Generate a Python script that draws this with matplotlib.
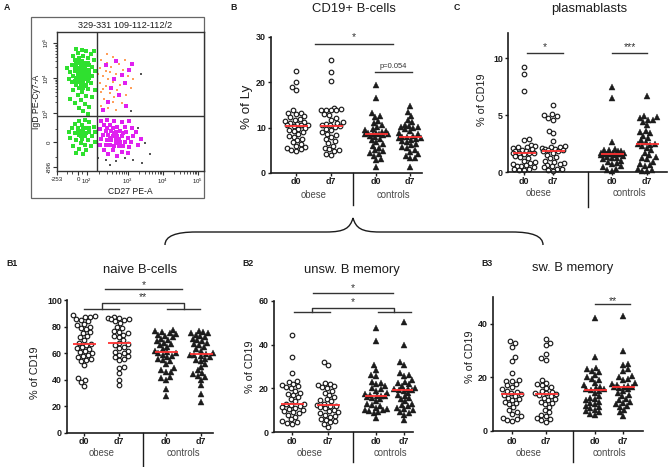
import matplotlib

matplotlib.use("Agg")
import matplotlib.pyplot as plt
import numpy as np
from matplotlib.patches import PathPatch, Rectangle
from matplotlib.path import Path

plt.rcParams["font.family"] = ["Liberation Sans", "DejaVu Sans"]
plt.rcParams["mathtext.fontset"] = "custom"
plt.rcParams["mathtext.rm"] = "Liberation Sans"

W, H = 669, 467

GROUP_LABELS = ["d0", "d7", "d0", "d7"]
COHORTS = ["obese", "controls"]

# ---- B: CD19+ B-cells, % of Ly
cd19_obese_d0 = [22.5, 20.0, 19.0, 18.3, 13.8, 13.3, 13.2, 13.0, 12.5, 12.3, 12.0, 11.8, 11.5,
                 11.2, 11.0, 10.8, 10.6, 10.5, 10.5, 10.4, 10.0, 9.8, 9.5, 9.2, 9.0, 8.6, 8.2,
                 8.0, 7.6, 7.2, 6.8, 6.4, 6.0, 5.8, 5.5, 5.2, 5.0, 4.8]
cd19_obese_d7 = [25.0, 22.2, 20.3, 14.3, 14.2, 14.0, 13.9, 13.8, 13.8, 13.0, 12.8, 12.2, 11.8,
                 11.3, 11.0, 10.7, 10.5, 10.5, 10.4, 10.2, 9.8, 9.5, 9.0, 8.7, 8.3, 8.0, 7.5,
                 7.0, 6.6, 6.0, 5.6, 5.2, 5.0, 4.8, 4.2, 3.9]
cd19_ctrl_d0 = [19.5, 16.5, 13.2, 12.6, 12.3, 11.5, 11.0, 10.6, 10.2, 9.8, 9.5, 9.2, 9.0, 8.9,
                8.8, 8.7, 8.6, 8.6, 8.5, 8.4, 8.2, 8.0, 7.6, 7.2, 6.8, 6.4, 6.0, 5.6, 5.0, 4.8,
                4.5, 4.2, 3.8, 3.0, 2.8, 1.3]
cd19_ctrl_d7 = [14.8, 13.5, 12.6, 11.8, 11.2, 10.6, 10.3, 10.2, 10.1, 10.0, 9.6, 9.2, 8.8, 8.5,
                8.2, 8.0, 7.9, 7.8, 7.8, 7.6, 7.3, 7.0, 6.8, 6.5, 6.2, 5.8, 5.5, 5.0, 4.6, 4.2,
                3.8, 3.4, 3.2, 1.3]

# ---- C: plasmablasts, % of CD19
pb_obese_d0 = [9.2, 8.6, 7.1, 2.9, 2.8, 2.4, 2.3, 2.2, 2.2, 2.1, 2.0, 1.9, 1.8, 1.8, 1.7, 1.7,
               1.7, 1.7, 1.6, 1.4, 1.3, 1.2, 1.0, 0.9, 0.8, 0.7, 0.6, 0.5, 0.5, 0.4, 0.3, 0.3,
               0.2, 0.2]
pb_obese_d7 = [5.9, 5.1, 5.0, 4.9, 4.7, 4.6, 3.6, 3.4, 2.7, 2.3, 2.2, 2.2, 2.1, 2.0, 2.0, 1.9,
               1.9, 1.8, 1.8, 1.7, 1.5, 1.3, 1.2, 1.0, 0.9, 0.8, 0.7, 0.6, 0.5, 0.4, 0.3, 0.3,
               0.2, 0.1]
pb_ctrl_d0 = [7.5, 6.5, 2.6, 2.0, 1.9, 1.9, 1.8, 1.8, 1.7, 1.7, 1.7, 1.6, 1.6, 1.6, 1.6, 1.6,
              1.6, 1.6, 1.5, 1.5, 1.4, 1.3, 1.2, 1.2, 1.1, 1.0, 0.9, 0.8, 0.7, 0.5, 0.4, 0.3,
              0.2, 0.1]
pb_ctrl_d7 = [6.7, 4.9, 4.8, 4.7, 4.6, 4.6, 4.4, 4.1, 3.6, 3.5, 3.4, 3.2, 3.0, 2.8, 2.6, 2.5,
              2.45, 2.4, 2.3, 2.1, 1.9, 1.7, 1.5, 1.3, 1.2, 1.1, 0.9, 0.7, 0.6, 0.5, 0.3, 0.2,
              0.1, 0.1]

# ---- B1: naive B-cells, % of CD19
nv_obese_d0 = [88.5, 88, 87.5, 87, 86, 85, 84, 82, 81, 80, 79, 78, 76, 75, 73, 72, 70, 68, 67,
               66, 65, 64, 63, 62, 61, 60, 59, 58, 57, 56, 55, 54, 51, 41, 40, 38, 35]
nv_obese_d7 = [87, 86.5, 86.5, 86, 85.5, 85, 84, 83, 80, 79, 77, 76, 75, 74, 73, 72, 70, 68, 67,
               66, 65, 64, 62, 61, 60, 59, 58, 57, 56, 55, 50, 49, 45, 40, 36]
nv_ctrl_d0 = [77.5, 76.5, 76, 75, 74.5, 74, 73, 72, 71, 70, 69, 68, 67, 66, 65, 63, 62, 61, 60.5,
              60, 59, 58, 57, 56, 55, 54, 52, 49, 47, 46, 46, 42, 41, 40, 33, 28]
nv_ctrl_d7 = [77, 76, 75.5, 75, 74, 73, 72, 71, 70, 69, 68, 67, 66, 65, 63, 62, 60, 59.5, 59,
              58.5, 58, 57, 56, 55, 54, 52, 50, 47, 45, 44, 43, 42, 40, 36, 29, 23]

# ---- B2: unswitched B memory, % of CD19
us_obese_d0 = [44.6, 34.5, 27.0, 23.5, 23.0, 22.0, 21.5, 21.0, 20.5, 20.0, 19.0, 18.0, 17.5,
               17.0, 16.0, 15.0, 14.0, 13.0, 12.8, 12.5, 12.0, 11.5, 11.0, 10.5, 10.0, 9.5, 9.0,
               8.5, 8.0, 7.0, 6.0, 5.0, 4.5, 4.2, 3.8]
us_obese_d7 = [32.2, 30.7, 22.5, 22.0, 21.5, 21.0, 20.5, 20.0, 19.0, 18.0, 17.0, 16.0, 15.0,
               14.5, 14.0, 13.0, 12.5, 12.0, 11.8, 11.5, 11.0, 10.0, 9.5, 9.0, 8.5, 8.0, 7.5,
               7.0, 6.0, 5.5, 5.0, 4.5, 3.5, 2.5]
us_ctrl_d0 = [47.5, 41.5, 30.5, 28.5, 26.0, 25.5, 23.0, 22.5, 22.0, 21.0, 20.0, 19.5, 19.0, 18.0,
              17.5, 17.0, 16.7, 16.5, 16.3, 16.0, 15.5, 15.0, 14.0, 13.0, 12.5, 12.0, 11.0, 10.5,
              10.0, 10.0, 9.5, 9.0, 8.5, 6.5]
us_ctrl_d7 = [50.3, 39.8, 32.0, 30.5, 27.0, 26.0, 25.5, 24.0, 23.0, 22.5, 22.0, 21.0, 20.0, 19.8,
              19.5, 19.4, 19.3, 19.0, 18.0, 17.0, 16.5, 15.5, 15.0, 14.0, 13.0, 12.5, 12.0, 11.0,
              10.5, 10.0, 9.0, 8.5, 8.0, 5.5]

# ---- B3: switched B memory, % of CD19
sw_obese_d0 = [33.5, 33.0, 31.5, 27.5, 26.0, 21.5, 19.0, 18.8, 18.5, 17.5, 17.0, 16.5, 15.5,
               15.0, 14.5, 14.0, 13.8, 13.5, 13.0, 12.5, 12.0, 11.5, 11.0, 10.5, 10.0, 9.0, 8.0,
               7.0, 6.5, 5.5, 5.0, 4.5, 4.0, 3.8]
sw_obese_d7 = [34.2, 33.0, 32.0, 28.8, 27.1, 26.5, 19.0, 18.0, 17.5, 17.0, 16.5, 16.0, 15.0,
               14.5, 14.2, 14.0, 13.8, 13.5, 13.0, 12.5, 12.0, 11.5, 11.0, 10.5, 10.0, 9.0, 8.0,
               7.0, 6.0, 5.5, 5.0, 4.5, 4.0, 3.5]
sw_ctrl_d0 = [42.0, 27.5, 23.5, 23.0, 22.5, 22.0, 21.0, 20.0, 19.5, 19.0, 18.0, 17.0, 16.5, 16.0,
              15.8, 15.5, 15.3, 15.0, 14.0, 13.0, 12.5, 12.0, 11.5, 11.0, 10.5, 10.0, 9.5, 9.0,
              8.5, 8.0, 7.5, 7.0, 6.5, 6.0]
sw_ctrl_d7 = [42.8, 30.0, 25.0, 24.5, 23.0, 22.5, 20.5, 20.0, 19.5, 19.0, 18.0, 17.5, 17.0, 16.8,
              16.6, 16.5, 16.3, 16.0, 15.5, 15.0, 14.0, 13.5, 13.0, 12.0, 11.5, 11.0, 10.5, 10.0,
              9.5, 9.0, 8.0, 7.0, 5.5]

# ---- A: flow cytometry events (fraction of the CD27 / IgD display range)
naive_events = [
    (0.17, 0.87), (0.20, 0.86), (0.14, 0.85), (0.23, 0.84), (0.11, 0.83), (0.18, 0.83),
    (0.15, 0.81), (0.21, 0.81), (0.12, 0.80), (0.25, 0.80), (0.17, 0.79), (0.19, 0.78),
    (0.13, 0.77), (0.10, 0.76), (0.16, 0.76), (0.22, 0.76), (0.24, 0.75), (0.14, 0.74),
    (0.18, 0.74), (0.20, 0.73), (0.12, 0.72), (0.16, 0.72), (0.09, 0.71), (0.22, 0.71),
    (0.14, 0.70), (0.18, 0.70), (0.20, 0.69), (0.11, 0.68), (0.16, 0.68), (0.24, 0.68),
    (0.13, 0.67), (0.19, 0.66), (0.21, 0.65), (0.15, 0.65), (0.10, 0.64), (0.17, 0.63),
    (0.23, 0.63), (0.13, 0.62), (0.19, 0.61), (0.15, 0.60), (0.21, 0.59), (0.11, 0.58),
    (0.17, 0.57), (0.14, 0.55), (0.20, 0.54), (0.24, 0.53), (0.16, 0.51), (0.12, 0.49),
    (0.19, 0.48), (0.22, 0.46), (0.15, 0.45), (0.18, 0.43), (0.26, 0.72), (0.08, 0.66),
    (0.26, 0.58), (0.09, 0.52), (0.21, 0.41), (0.13, 0.88), (0.25, 0.86), (0.07, 0.74),
    (0.15, 0.78), (0.17, 0.75), (0.19, 0.75), (0.21, 0.78), (0.13, 0.73), (0.15, 0.71),
    (0.17, 0.71), (0.19, 0.71), (0.21, 0.70), (0.14, 0.68), (0.18, 0.67), (0.20, 0.67),
    (0.16, 0.66), (0.18, 0.64), (0.14, 0.64), (0.16, 0.62), (0.18, 0.60), (0.20, 0.62),
    (0.12, 0.65), (0.22, 0.67), (0.16, 0.74), (0.18, 0.77), (0.20, 0.77), (0.16, 0.79),
    (0.14, 0.79), (0.22, 0.73), (0.12, 0.75), (0.17, 0.69), (0.19, 0.69), (0.15, 0.67),
]
dn_events = [
    (0.15, 0.36), (0.19, 0.37), (0.12, 0.34), (0.22, 0.35), (0.17, 0.33), (0.25, 0.32),
    (0.10, 0.31), (0.14, 0.31), (0.20, 0.31), (0.16, 0.29), (0.18, 0.28), (0.22, 0.28),
    (0.12, 0.27), (0.15, 0.26), (0.19, 0.25), (0.24, 0.25), (0.09, 0.24), (0.17, 0.23),
    (0.21, 0.22), (0.13, 0.22), (0.16, 0.20), (0.19, 0.19), (0.11, 0.18), (0.23, 0.18),
    (0.15, 0.16), (0.20, 0.15), (0.13, 0.13), (0.18, 0.12), (0.26, 0.21), (0.08, 0.28),
    (0.14, 0.28), (0.18, 0.31), (0.20, 0.27), (0.16, 0.25), (0.22, 0.31), (0.26, 0.28),
]
unsw_events = [
    (0.30, 0.80), (0.34, 0.78), (0.38, 0.82), (0.42, 0.77), (0.29, 0.74), (0.33, 0.72),
    (0.37, 0.75), (0.45, 0.73), (0.31, 0.68), (0.35, 0.66), (0.40, 0.70), (0.48, 0.68),
    (0.29, 0.63), (0.33, 0.61), (0.38, 0.64), (0.43, 0.62), (0.30, 0.57), (0.36, 0.56),
    (0.41, 0.58), (0.47, 0.55), (0.32, 0.52), (0.38, 0.50), (0.44, 0.49), (0.30, 0.47),
    (0.35, 0.45), (0.40, 0.44), (0.50, 0.60), (0.34, 0.84), (0.46, 0.80), (0.52, 0.66),
    (0.28, 0.70), (0.36, 0.71), (0.31, 0.59), (0.39, 0.53),
]
sw_events = [
    (0.30, 0.36), (0.34, 0.37), (0.39, 0.36), (0.44, 0.35), (0.49, 0.36), (0.32, 0.33),
    (0.36, 0.33), (0.41, 0.32), (0.46, 0.32), (0.51, 0.31), (0.29, 0.30), (0.33, 0.29),
    (0.37, 0.29), (0.40, 0.28), (0.43, 0.29), (0.47, 0.28), (0.54, 0.28), (0.31, 0.26),
    (0.35, 0.26), (0.38, 0.25), (0.41, 0.25), (0.44, 0.25), (0.48, 0.24), (0.52, 0.25),
    (0.30, 0.23), (0.34, 0.22), (0.37, 0.22), (0.40, 0.22), (0.43, 0.21), (0.46, 0.21),
    (0.50, 0.21), (0.33, 0.19), (0.36, 0.19), (0.39, 0.18), (0.42, 0.18), (0.45, 0.18),
    (0.49, 0.17), (0.55, 0.19), (0.32, 0.15), (0.38, 0.15), (0.44, 0.14), (0.48, 0.13),
    (0.35, 0.12), (0.41, 0.11), (0.29, 0.19), (0.57, 0.23), (0.39, 0.27), (0.42, 0.23),
    (0.36, 0.24), (0.45, 0.27), (0.40, 0.20), (0.38, 0.31), (0.34, 0.31),
    (0.33, 0.76), (0.40, 0.79), (0.44, 0.69), (0.37, 0.60), (0.49, 0.73), (0.42, 0.55),
    (0.35, 0.50), (0.46, 0.63), (0.51, 0.77), (0.31, 0.44), (0.39, 0.66), (0.47, 0.47),
]
other_events = [
    (0.33, 0.08), (0.40, 0.07), (0.46, 0.09), (0.52, 0.08), (0.58, 0.06), (0.63, 0.12),
    (0.55, 0.31), (0.60, 0.20), (0.36, 0.04), (0.50, 0.43), (0.57, 0.70), (0.28, 0.09),
]

RED = "#ff3333"
INK = "#1c1c1c"
GREY_TXT = "#4a4a4a"

fig = plt.figure(figsize=(W / 100, H / 100), dpi=100)
over = fig.add_axes([0, 0, 1, 1])
over.set_xlim(0, W)
over.set_ylim(H, 0)
over.axis("off")


def px_axes(left, top, right, bottom):
    return fig.add_axes([left / W, 1 - bottom / H, (right - left) / W, (bottom - top) / H])


def swarm(ypx, d, lim):
    """Beeswarm x offsets (px) for values in pixel units, kept within +-lim."""
    out = np.zeros(len(ypx))
    placed = []
    side = 1.0
    for i in np.argsort(ypx):
        y = ypx[i]
        near = [(xj, yj) for xj, yj in placed if abs(y - yj) < d]
        blocks = []
        for xj, yj in near:
            h = np.sqrt(d * d - (y - yj) ** 2)
            blocks.append((xj - h, xj + h))
        cands = [0.0] + [a for a, _ in blocks] + [b for _, b in blocks]
        cands = [c for c in cands if abs(c) <= lim]
        cands.sort(key=lambda c: (round(abs(c), 4), -side * c))
        pick = None
        for c in cands:
            if all(not (a + 1e-6 < c < b - 1e-6) for a, b in blocks):
                pick = c
                break
        if pick is None:
            grid = np.linspace(-lim, lim, 25)
            score = [min(np.hypot(g - xj, y - yj) for xj, yj in near) for g in grid]
            pick = float(grid[int(np.argmax(score))])
        out[i] = pick
        placed.append((pick, y))
        side = -side
    return out


def dot_panel(box, ymax, yticks, groups, xpos, sep, title, title_xy, letter, letter_xy,
              sep_end, tick_y, cohort_y, bars):
    left, top, right, bottom = box
    ax = px_axes(left, top, right, bottom)
    ax.set_xlim(0, right - left)
    ax.set_ylim(0, ymax)
    ppu = (bottom - top) / ymax
    for i, vals in enumerate(groups):
        vals = np.array(vals, dtype=float)
        xs = swarm(vals * ppu, 5.0, 11.5)
        if i < 2:
            ax.plot(xpos[i] + xs, vals, ls="none", marker="o", ms=3.3, mfc="white",
                    mec=INK, mew=0.85, clip_on=False, zorder=2)
        else:
            ax.plot(xpos[i] + xs, vals, ls="none", marker="^", ms=3.9, mfc=INK,
                    mec=INK, mew=0.3, clip_on=False, zorder=2)
        med = np.median(vals)
        ax.plot([xpos[i] - 11.5, xpos[i] + 11.5], [med, med], color=RED, lw=1.3,
                solid_capstyle="butt", zorder=3)
    for s in ("top", "right"):
        ax.spines[s].set_visible(False)
    for s in ("left", "bottom"):
        ax.spines[s].set_linewidth(1.2)
        ax.spines[s].set_color(INK)
    ax.set_xticks(xpos)
    ax.set_xticklabels([])
    ax.set_yticks(yticks)
    ax.set_yticklabels([str(t) for t in yticks], fontsize=6.4, fontweight="bold", color=INK)
    ax.tick_params(direction="out", length=2.5, width=1.0, color=INK, pad=1.2)
    ax.patch.set_visible(False)

    for x, lab in zip(xpos, GROUP_LABELS):
        over.text(left + x, tick_y, lab, fontsize=6.4, fontweight="bold", color=INK,
                  ha="center", va="center")
    for k, name in enumerate(COHORTS):
        cx = left + (xpos[2 * k] + xpos[2 * k + 1]) / 2
        over.text(cx, cohort_y, name, fontsize=6.9, color=GREY_TXT, ha="center", va="center")
    over.plot([left + sep, left + sep], [bottom, sep_end], color=INK, lw=1.0)
    over.text(title_xy[0], title_xy[1], title, fontsize=9.4, color=INK, ha="center",
              va="center")
    over.text(letter_xy[0], letter_xy[1], letter, fontsize=6.3, fontweight="bold", color=INK,
              ha="center", va="center")
    for kind, spec in bars:
        if kind == "line":
            x0, x1, y, txt, ty, fs = spec
            ax.plot([x0, x1], [y, y], color="#333333", lw=1.0, clip_on=False)
            ax.text((x0 + x1) / 2, ty, txt, fontsize=fs, color="#333333", ha="center",
                    va="center", clip_on=False)
        else:
            (l0, l1), (r0, r1), ytop, ylow, txt, ty = spec
            lm, rm = (l0 + l1) / 2, (r0 + r1) / 2
            ax.plot([l0, l1], [ylow, ylow], color="#333333", lw=1.0, clip_on=False)
            ax.plot([r0, r1], [ylow, ylow], color="#333333", lw=1.0, clip_on=False)
            ax.plot([lm, lm, rm, rm], [ylow, ytop, ytop, ylow], color="#333333", lw=1.0,
                    clip_on=False)
            ax.text((lm + rm) / 2, ty, txt, fontsize=7.5, color="#333333", ha="center",
                    va="center", clip_on=False)
    return ax


def ylabel(x, y, text, size=7.8):
    over.text(x, y, text, fontsize=size, color=INK, rotation=90, ha="center", va="center")


# ---- panel B
dot_panel((271, 37, 422, 173), 30, [0, 10, 20, 30],
          [cd19_obese_d0, cd19_obese_d7, cd19_ctrl_d0, cd19_ctrl_d7],
          [25, 60, 105, 139], 82, "CD19+ B-cells", (354, 9), "B", (234, 7), 205,
          182, 195,
          [("line", (44, 122, 28.5, "*", 29.9, 7.5)),
           ("line", (104, 141, 22.3, "p=0.054", 23.6, 5.4))])
ylabel(247, 107, "% of Ly", 9.6)

# ---- panel C
dot_panel((508, 33, 667, 172), 12.2, [0, 5, 10],
          [pb_obese_d0, pb_obese_d7, pb_ctrl_d0, pb_ctrl_d7],
          [16, 45, 104, 139], 80, "plasmablasts", (589, 9), "C", (457, 7), 207,
          182, 193,
          [("line", (19, 55, 10.45, "*", 10.95, 7.5)),
           ("line", (104, 139, 10.45, "***", 10.95, 7.5))])
ylabel(482, 100, "% of CD19")

# ---- panel B1
dot_panel((67, 300, 213, 433), 100, [0, 20, 40, 60, 80, 100],
          [nv_obese_d0, nv_obese_d7, nv_ctrl_d0, nv_ctrl_d7],
          [17, 52, 99, 134], 76, "naive B-cells", (140, 270), "B1", (12, 263), 467,
          441, 453,
          [("line", (38, 115, 108.3, "*", 111.3, 7.5)),
           ("bracket", ((17, 52), (100, 133), 97.7, 93.2, "**", 102.0))])
ylabel(35, 373, "% of CD19")

# ---- panel B2
dot_panel((274, 301, 413, 432), 60, [0, 20, 40, 60],
          [us_obese_d0, us_obese_d7, us_ctrl_d0, us_ctrl_d7],
          [18, 54, 102, 130], 79, "unsw. B memory", (352, 270), "B2", (248, 263), 462,
          441, 453,
          [("line", (39, 119, 63.7, "*", 65.9, 7.5)),
           ("bracket", ((20, 56), (104, 137), 56.8, 55.0, "*", 59.6))])
ylabel(250, 367, "% of CD19")

# ---- panel B3
dot_panel((493, 297, 643, 431), 50, [0, 20, 40],
          [sw_obese_d0, sw_obese_d7, sw_ctrl_d0, sw_ctrl_d7],
          [19, 53, 102, 130], 80, "sw. B memory", (573, 268), "B3", (487, 263), 462,
          442, 453,
          [("line", (102, 137, 47.5, "**", 48.6, 7.5))])
ylabel(470, 357, "% of CD19")

# ---- curly brace from B to B1..B3
verts = [(165, 245), (165, 236), (176, 232), (196, 232), (326, 232),
         (345, 232), (350, 228), (353, 218),
         (356, 228), (361, 232), (380, 232), (512, 232),
         (532, 232), (543, 236), (543, 245)]
codes = [Path.MOVETO, Path.CURVE4, Path.CURVE4, Path.CURVE4, Path.LINETO,
         Path.CURVE4, Path.CURVE4, Path.CURVE4,
         Path.CURVE4, Path.CURVE4, Path.CURVE4, Path.LINETO,
         Path.CURVE4, Path.CURVE4, Path.CURVE4]
over.add_patch(PathPatch(Path(verts, codes), fill=False, ec=INK, lw=1.0))

# ---- panel A: flow plot
over.add_patch(Rectangle((31, 17), 173, 181, fill=False, ec="#666666", lw=0.9))
over.text(7, 7, "A", fontsize=6.3, fontweight="bold", color=INK, ha="center", va="center")
over.text(125, 26, "329-331 109-112-112/2", fontsize=6.6, color=INK, ha="center",
          va="center")
axA = px_axes(57, 32, 204, 171)
axA.set_xlim(0, 1)
axA.set_ylim(0, 1)
for pts, col, size in ((naive_events, "#2fe02f", 6), (dn_events, "#2fe02f", 5),
                       (unsw_events, "#ff9f5a", 3.5), (sw_events, "#e020f0", 5),
                       (other_events, "#555555", 2.5)):
    arr = np.array(pts)
    axA.scatter(arr[:, 0], arr[:, 1], s=size, marker="s", c=col, linewidths=0, zorder=2)
axA.axvline(0.272, color="#333333", lw=1.0, zorder=3)
axA.axhline(0.396, color="#333333", lw=1.0, zorder=3)
for s in axA.spines.values():
    s.set_color("#333333")
    s.set_linewidth(1.0)
xt = [0.0, 0.143, 0.204, 0.483, 0.721, 0.959]
axA.set_xticks(xt)
axA.set_xticklabels(["-253", "0", "$10^{2}$", "$10^{3}$", "$10^{4}$", "$10^{5}$"],
                    fontsize=4.4, color=INK)
yt = [0.029, 0.209, 0.417, 0.669, 0.921]
axA.set_yticks(yt)
axA.set_yticklabels(["-896", "0", "$10^{3}$", "$10^{4}$", "$10^{5}$"], fontsize=4.4,
                    color=INK, rotation=90, va="center")
minor_x = [0.07, 0.10, 0.17] + [a + w * np.log10(k) for a, w in ((0.204, 0.279),
           (0.483, 0.238), (0.721, 0.238)) for k in range(2, 10)]
minor_y = [0.10, 0.30] + [a + w * np.log10(k) for a, w in ((0.417, 0.252),
           (0.669, 0.252)) for k in range(2, 10)]
axA.set_xticks(minor_x, minor=True)
axA.set_yticks(minor_y, minor=True)
axA.tick_params(which="major", direction="out", length=3, width=0.8, color="#333333", pad=1)
axA.tick_params(which="minor", direction="out", length=1.8, width=0.6, color="#333333")
axA.set_xlabel("CD27 PE-A", fontsize=6.2, color=INK, labelpad=0.5)
axA.set_ylabel("IgD PE-Cy7-A", fontsize=6.2, color=INK, labelpad=0.5)
for txt, x, y in (("naive", 77, 88), ("unswitched", 133, 88), ("DN", 78, 154),
                  ("switched", 129, 154)):
    over.text(x, y, txt, fontsize=5.6, color="#333333", ha="center", va="center",
              zorder=5)

fig.savefig("out.png", dpi=100)
